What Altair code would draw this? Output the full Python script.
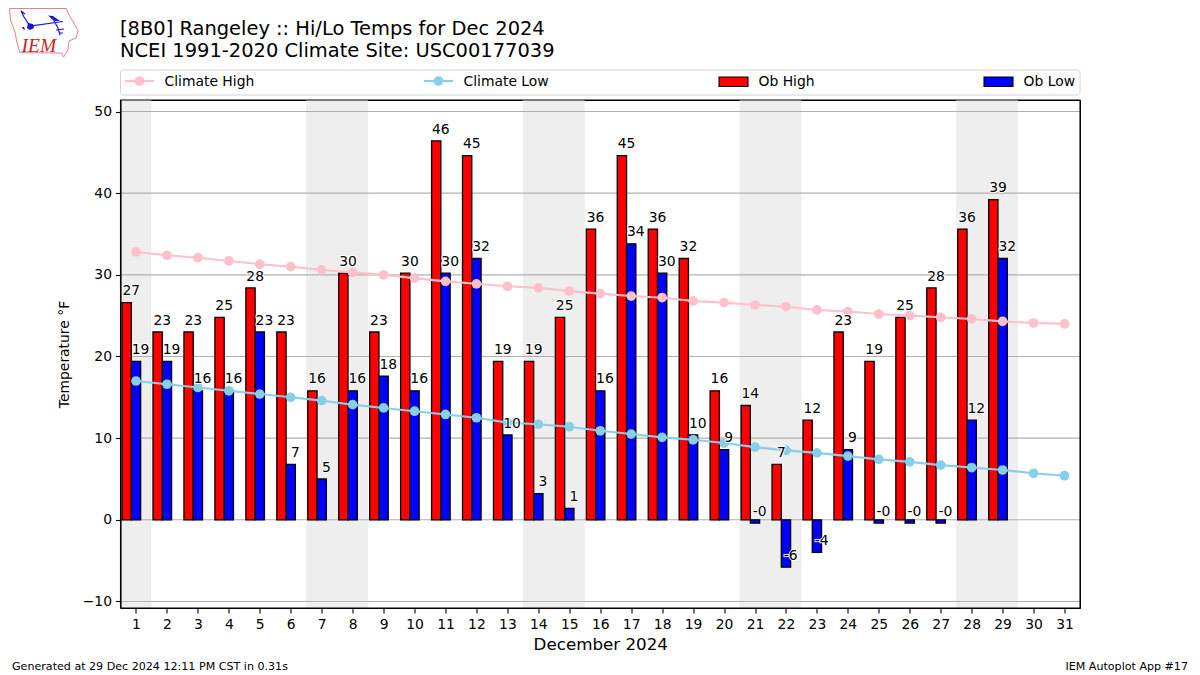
import altair as alt
import pandas as pd

days = list(range(1, 32))
climate_high = [32.8, 32.4, 32.1, 31.7, 31.3, 31.0, 30.6, 30.3, 30.0, 29.6, 29.2, 28.9, 28.6, 28.4, 28.0, 27.7,
                27.4, 27.2, 26.8, 26.6, 26.3, 26.1, 25.7, 25.5, 25.2, 25.0, 24.8, 24.6, 24.3, 24.1, 24.0]
climate_low = [17.0, 16.6, 16.2, 15.8, 15.4, 15.0, 14.6, 14.1, 13.7, 13.3, 12.9, 12.5, 11.9, 11.7, 11.4, 10.9,
               10.5, 10.1, 9.8, 9.4, 8.9, 8.5, 8.2, 7.8, 7.4, 7.1, 6.7, 6.4, 6.1, 5.7, 5.4]
ob_high = [26.6, 23.0, 23.0, 24.8, 28.4, 23.0, 15.8, 30.2, 23.0, 30.2, 46.4, 44.6, 19.4, 19.4, 24.8, 35.6, 44.6,
           35.6, 32.0, 15.8, 14.0, 6.8, 12.2, 23.0, 19.4, 24.8, 28.4, 35.6, 39.2]
ob_low = [19.4, 19.4, 15.8, 15.8, 23.0, 6.8, 5.0, 15.8, 17.6, 15.8, 30.2, 32.0, 10.4, 3.2, 1.4, 15.8, 33.8, 30.2,
          10.4, 8.6, -0.4, -5.8, -4.0, 8.6, -0.4, -0.4, -0.4, 12.2, 32.0]
high_labels = ["27", "23", "23", "25", "28", "23", "16", "30", "23", "30", "46", "45", "19", "19", "25", "36",
               "45", "36", "32", "16", "14", "7", "12", "23", "19", "25", "28", "36", "39"]
low_labels = ["19", "19", "16", "16", "23", "7", "5", "16", "18", "16", "30", "32", "10", "3", "1", "16", "34",
              "30", "10", "9", "-0", "-6", "-4", "9", "-0", "-0", "-0", "12", "32"]
weekend_start = [0.5, 6.5, 13.5, 20.5, 27.5]
weekend_end = [1.5, 8.5, 15.5, 22.5, 29.5]
y_ticks = [-10, 0, 10, 20, 30, 40, 50]

FONT = "DejaVu Sans"
PL, PT = 120.5, 100  # plot-area origin on the page
DOT = 94

obs_days = days[:len(ob_high)]
hi = pd.DataFrame({"day": obs_days, "v": ob_high, "t": high_labels})
lo = pd.DataFrame({"day": obs_days, "v": ob_low, "t": low_labels})
hi["a"], hi["b"], hi["tx"] = hi.day - 0.45, hi.day - 0.15, hi.day - 0.15
lo["a"], lo["b"], lo["tx"] = lo.day - 0.15, lo.day + 0.15, lo.day + 0.15
for d in (hi, lo):
    d["zero"] = 0
    d["ty"] = d.v + 0.9
clim = pd.DataFrame({"day": days, "h": climate_high, "l": climate_low})
bands = pd.DataFrame({"a": weekend_start, "b": weekend_end, "y0": -10.8, "y1": 51.41})
grid = pd.DataFrame({"y": y_ticks})

xs = alt.Scale(domain=[0.5, 31.5], nice=False, zero=False)
ys = alt.Scale(domain=[-10.8, 51.41], nice=False, zero=False)

axis_common = dict(grid=False, domainColor="black", tickColor="black", tickSize=5, labelColor="black",
                   labelFont=FONT, labelFontSize=13.9, titleFont=FONT, titleColor="black",
                   titleFontWeight="normal", zindex=1, labelOverlap=False, labelFlush=False, domainWidth=1.1,
                   tickWidth=1.1)
x_axis = alt.Axis(values=days, format="d", title="December 2024", titleFontSize=16.7,
                  titlePadding=6, labelPadding=4, **axis_common)
y_axis = alt.Axis(values=y_ticks, format="d", title="Temperature °F",
                  titleFontSize=13.9, titlePadding=11, labelPadding=4, **axis_common)
X = lambda f: alt.X(f, type="quantitative", scale=xs, axis=x_axis)
Y = lambda f: alt.Y(f, type="quantitative", scale=ys, axis=y_axis)

layers = []

# weekend bands
layers.append(alt.Chart(bands).mark_rect(fill="#eeeeee", stroke=None).encode(
    x=X("a"), x2="b:Q", y=Y("y0"), y2="y1:Q"))

# grid above the bands
layers.append(alt.Chart(grid).mark_rule(color="#b0b0b0", strokeWidth=1.1).encode(
    y=Y("y"), x=alt.value(0), x2=alt.value(959.5)))

# bars
for frame, color in ((hi, "#ff0000"), (lo, "#0000ff")):
    layers.append(alt.Chart(frame).mark_rect(fill=color, stroke="black", strokeWidth=1.3).encode(
        x=X("a"), x2="b:Q", y=Y("v"), y2="zero:Q"))

# climate lines
for field, color in (("h", "#ffc0cb"), ("l", "#87ceeb")):
    layers.append(alt.Chart(clim).mark_line(color=color, strokeWidth=2.1).encode(x=X("day"), y=Y(field)))
    layers.append(alt.Chart(clim).mark_circle(color=color, opacity=1, size=DOT).encode(x=X("day"), y=Y(field)))

# value labels: halo then fill
for frame in (hi, lo):
    layers.append(alt.Chart(frame).mark_text(font=FONT, fontSize=13.9, align="center", baseline="alphabetic",
                                             stroke="white", strokeWidth=2, strokeOpacity=0.9, fill="white").encode(
        x=X("tx"), y=Y("ty"), text="t:N"))
for frame in (hi, lo):
    layers.append(alt.Chart(frame).mark_text(font=FONT, fontSize=13.9, align="center", baseline="alphabetic",
                                             fill="black").encode(
        x=X("tx"), y=Y("ty"), text="t:N"))


def px(x):
    return alt.value(x - PL)


def py(y):
    return alt.value(y - PT)


def label(text, x, y, size, align="left", **kw):
    return alt.Chart(alt.Data(values=[{"t": text}])).mark_text(
        font=kw.pop("font", FONT), fontSize=size, align=align, baseline="alphabetic",
        fill=kw.pop("fill", "black"), **kw).encode(x=px(x), y=py(y), text="t:N")


# plot frame over the bands
layers.append(alt.Chart(alt.Data(values=[{}])).mark_rect(fillOpacity=0, stroke="black", strokeWidth=1.1).encode(
    x=px(120.5), x2=px(1080), y=py(100), y2=py(608)))

# title
layers.append(label("[8B0] Rangeley :: Hi/Lo Temps for Dec 2024", 120, 35, 19.45))
layers.append(label("NCEI 1991-2020 Climate Site: USC00177039", 120, 57, 19.45))

# legend frame
layers.append(alt.Chart(alt.Data(values=[{}])).mark_rect(fill="white", stroke="#d4d4d4", strokeWidth=1,
                                                        cornerRadius=2.5).encode(
    x=px(120.5), x2=px(1080), y=py(70), y2=py(95)))
for x0, color, text in ((125, "#ffc0cb", "Climate High"), (424, "#87ceeb", "Climate Low")):
    layers.append(alt.Chart(alt.Data(values=[{}])).mark_rule(color=color, strokeWidth=2.1).encode(
        x=px(x0), x2=px(x0 + 29), y=py(81)))
    layers.append(alt.Chart(alt.Data(values=[{}])).mark_circle(color=color, opacity=1, size=DOT).encode(
        x=px(x0 + 14.5), y=py(81)))
    layers.append(label(text, x0 + 39.5, 86, 13.9))
for x0, color, text in ((719, "#ff0000", "Ob High"), (984, "#0000ff", "Ob Low")):
    layers.append(alt.Chart(alt.Data(values=[{}])).mark_rect(fill=color, stroke="black", strokeWidth=1.1).encode(
        x=px(x0), x2=px(x0 + 29), y=py(77), y2=py(86.5)))
    layers.append(label(text, x0 + 39.5, 86, 13.9))

# footer
layers.append(label("Generated at 29 Dec 2024 12:11 PM CST in 0.31s", 12, 670, 11.1))
layers.append(label("IEM Autoplot App #17", 1188, 670, 11.1, align="right"))


# logo: vector symbols in a box of +-35 px around (44, 32)
def path(points, close=False):
    s = "M" + " L".join(f"{(x - 44) / 35:.3f},{(y - 32) / 35:.3f}" for x, y in points)
    return s + (" Z" if close else "")


outline = [(9.5, 8.5), (66.5, 8.5), (68, 13), (72, 20), (75, 25), (78, 31), (76, 38), (69, 41), (68, 50),
           (63.5, 57), (61.5, 53), (20, 52.7), (17, 43), (15, 32), (10.5, 20)]
blue_lines = path([(21, 11), (24, 17), (30, 26), (63, 21.5)]) + " " + path([(21, 11), (25, 14)]) + " " + \
    path([(54, 21), (58, 28), (60, 35)]) + " " + path([(56, 30), (64, 29)]) + " " + path([(59, 33), (63, 33)])
blue_fill = path([(48, 15.5), (53, 16), (60, 21), (54, 21)], True) + " " + \
    path([(28, 23), (33, 24), (34, 28), (30, 30), (27, 28)], True) + " " + \
    path([(22, 27), (24, 27), (25, 30), (23, 29)], True)
logo_x, logo_y = px(44), py(32)
layers.append(alt.Chart(alt.Data(values=[{}])).mark_point(shape=path(outline, True), size=4900, filled=False,
                                                         stroke="#e98080", strokeWidth=1, opacity=1).encode(
    x=logo_x, y=logo_y))
layers.append(alt.Chart(alt.Data(values=[{}])).mark_point(shape=blue_lines, size=4900, filled=False,
                                                         stroke="#1414d8", strokeWidth=1.2, opacity=1).encode(
    x=logo_x, y=logo_y))
layers.append(alt.Chart(alt.Data(values=[{}])).mark_point(shape=blue_fill, size=4900, filled=True,
                                                         fill="#1414d8", opacity=1).encode(
    x=logo_x, y=logo_y))
layers.append(label("IEM", 21.5, 52, 19.5, font="Liberation Serif", fill="#cc1f2a", fontStyle="italic"))

chart = alt.layer(*layers).properties(
    width=959.5,
    height=508,
    padding={"left": PL - 8, "top": PT - 8, "right": 112, "bottom": 70},
    autosize=alt.AutoSizeParams(type="none"),
    background="white",
).configure_view(stroke="black", strokeWidth=1)

chart.save("out.html", embed_options={"renderer": "svg", "actions": False})
